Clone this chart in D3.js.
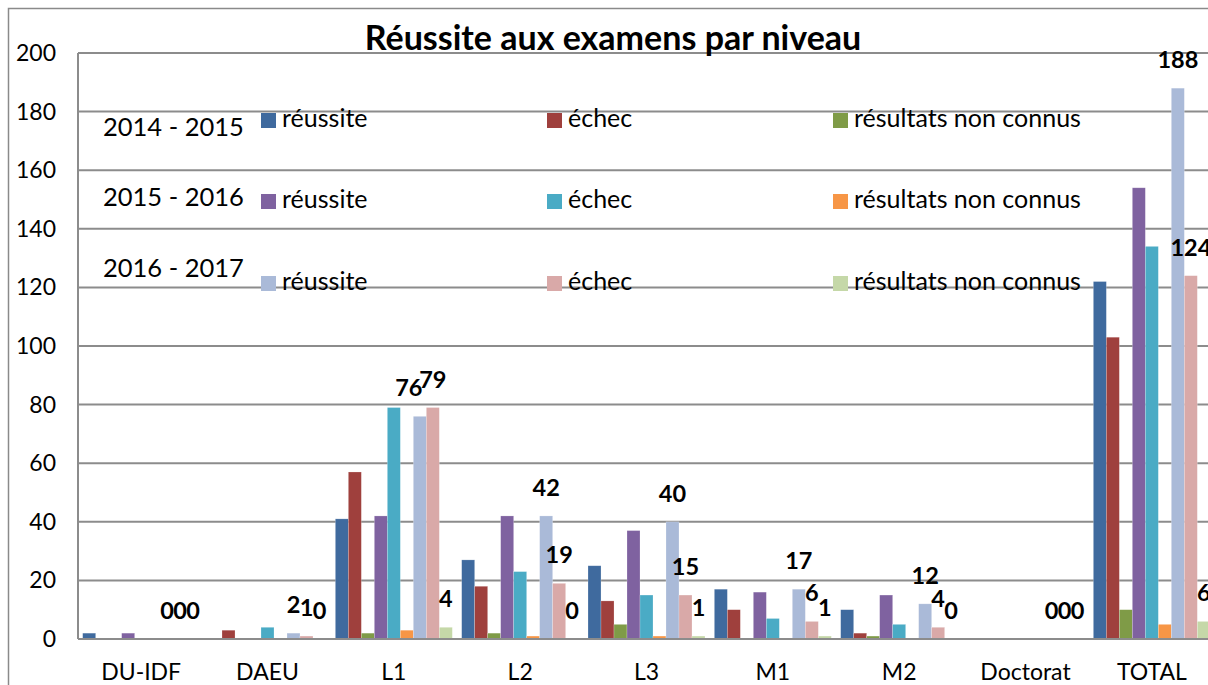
<!DOCTYPE html>
<html>
<head>
<meta charset="utf-8">
<script src="https://cdn.jsdelivr.net/npm/d3@7"></script>
<style>
  body { margin: 0; background: #fff; }
  text { font-family: Lato, "Open Sans", sans-serif; fill: #000; }
</style>
</head>
<body>
<div id="chart"></div>
<script>
const categories = ['DU-IDF', 'DAEU', 'L1', 'L2', 'L3', 'M1', 'M2', 'Doctorat', 'TOTAL'];
const years = ['2014 - 2015', '2015 - 2016', '2016 - 2017'];
const outcomes = ['réussite', 'échec', 'résultats non connus'];

// one array per series, same order as categories
const reussite2015 = [2, 0, 41, 27, 25, 17, 10, 0, 122];
const echec2015    = [0, 3, 57, 18, 13, 10, 2, 0, 103];
const nc2015       = [0, 0, 2, 2, 5, 0, 1, 0, 10];
const reussite2016 = [2, 0, 42, 42, 37, 16, 15, 0, 154];
const echec2016    = [0, 4, 79, 23, 15, 7, 5, 0, 134];
const nc2016       = [0, 0, 3, 1, 1, 0, 0, 0, 5];
const reussite2017 = [0, 2, 76, 42, 40, 17, 12, 0, 188];
const echec2017    = [0, 1, 79, 19, 15, 6, 4, 0, 124];
const nc2017       = [0, 0, 4, 0, 1, 1, 0, 0, 6];

const yTicks = [0, 20, 40, 60, 80, 100, 120, 140, 160, 180, 200];

const seriesColors = ['#3f6a9e', '#9f403d', '#7f9b47', '#7f62a0', '#4aabc5', '#f79646', '#aabad8', '#d9a9a8', '#c5d8a8'];

const series = [
  { year: 0, outcome: 0, values: reussite2015 },
  { year: 0, outcome: 1, values: echec2015 },
  { year: 0, outcome: 2, values: nc2015 },
  { year: 1, outcome: 0, values: reussite2016 },
  { year: 1, outcome: 1, values: echec2016 },
  { year: 1, outcome: 2, values: nc2016 },
  { year: 2, outcome: 0, values: reussite2017 },
  { year: 2, outcome: 1, values: echec2017 },
  { year: 2, outcome: 2, values: nc2017 }
].map((s, i) => ({ ...s, id: i, color: seriesColors[i], labelled: s.year === 2 }));

const width = 1208, height = 685;
const margin = { top: 53, left: 78, right: -7, bottom: 46 };

const svg = d3.select('#chart').append('svg')
  .attr('width', width)
  .attr('height', height);

// outer chart frame
svg.append('rect')
  .attr('x', 8.5).attr('y', 8.5)
  .attr('width', 1300).attr('height', 800)
  .attr('fill', 'none')
  .attr('stroke', '#8a8a8a')
  .attr('stroke-width', 1.5);

const x0 = d3.scaleBand()
  .domain(categories)
  .range([margin.left, width - margin.right]);

const x1 = d3.scaleBand()
  .domain(series.map(s => s.id))
  .range([0, x0.bandwidth()])
  .paddingInner(0)
  .paddingOuter(0.36);

const y = d3.scaleLinear()
  .domain([0, 200])
  .range([height - margin.bottom, margin.top]);

// gridlines
svg.append('g')
  .selectAll('line')
  .data(yTicks)
  .join('line')
  .attr('x1', margin.left)
  .attr('x2', width - margin.right)
  .attr('y1', d => y(d))
  .attr('y2', d => y(d))
  .attr('stroke', '#8c8c8c')
  .attr('stroke-width', 2);

// y axis line
svg.append('line')
  .attr('x1', margin.left).attr('x2', margin.left)
  .attr('y1', y(200)).attr('y2', y(0))
  .attr('stroke', '#8c8c8c')
  .attr('stroke-width', 2);

// y tick labels
svg.append('g')
  .selectAll('text')
  .data(yTicks)
  .join('text')
  .attr('x', 56)
  .attr('y', d => y(d))
  .attr('dy', '0.35em')
  .attr('text-anchor', 'end')
  .style('font-size', '23px')
  .text(d => d);

// category labels
svg.append('g')
  .selectAll('text')
  .data(categories)
  .join('text')
  .attr('x', d => x0(d) + x0.bandwidth() / 2)
  .attr('y', 680)
  .attr('text-anchor', 'middle')
  .style('font-size', '23px')
  .text(d => d);

// bars
const groups = svg.append('g')
  .selectAll('g')
  .data(series)
  .join('g')
  .attr('fill', s => s.color);

groups.selectAll('rect')
  .data(s => s.values.map((v, i) => ({ cat: categories[i], v, s })))
  .join('rect')
  .attr('x', d => x0(d.cat) + x1(d.s.id))
  .attr('width', x1.bandwidth())
  .attr('y', d => y(d.v))
  .attr('height', d => y(0) - y(d.v))
  .attr('stroke', 'rgba(255,255,255,0.35)')
  .attr('stroke-width', 0.6);

// data labels for 2016 - 2017 series
// nudge the réussite label left when it sits at nearly the same height as the échec one
function labelShift(d) {
  if (d.s.outcome !== 0 || d.v < 10) return 0;
  const other = echec2017[categories.indexOf(d.cat)];
  return Math.abs(y(d.v) - y(other)) < 20 ? -11 : 0;
}

svg.append('g')
  .selectAll('g')
  .data(series.filter(s => s.labelled))
  .join('g')
  .selectAll('text')
  .data(s => s.values.map((v, i) => ({ cat: categories[i], v, s })))
  .join('text')
  .attr('x', d => x0(d.cat) + x1(d.s.id) + x1.bandwidth() / 2 + labelShift(d))
  .attr('y', d => y(d.v) - 20)
  .attr('text-anchor', 'middle')
  .style('font-size', '23.5px')
  .style('font-weight', 'bold')
  .text(d => d.v);

// x axis (zero line)
svg.append('line')
  .attr('x1', margin.left).attr('x2', width - margin.right)
  .attr('y1', y(0)).attr('y2', y(0))
  .attr('stroke', '#8c8c8c')
  .attr('stroke-width', 2);

// title
svg.append('text')
  .attr('x', 613)
  .attr('y', 50)
  .attr('text-anchor', 'middle')
  .style('font-size', '34px')
  .style('font-weight', 'bold')
  .text('Réussite aux examens par niveau');

// legend
const legendRowTop = [113, 194, 276];
const legendColX = [261, 547, 833];
const yearBaseline = [136, 206, 277];

svg.append('g')
  .selectAll('text')
  .data(years)
  .join('text')
  .attr('x', 103)
  .attr('y', (d, i) => yearBaseline[i])
  .style('font-size', '25.5px')
  .text(d => d);

const legendItems = svg.append('g')
  .selectAll('g')
  .data(series)
  .join('g')
  .attr('transform', s => `translate(${legendColX[s.outcome]},${legendRowTop[s.year]})`);

legendItems.append('rect')
  .attr('width', 15)
  .attr('height', 15)
  .attr('fill', s => s.color);

legendItems.append('text')
  .attr('x', 21)
  .attr('y', 14)
  .style('font-size', '25px')
  .text(s => outcomes[s.outcome]);
</script>
</body>
</html>
